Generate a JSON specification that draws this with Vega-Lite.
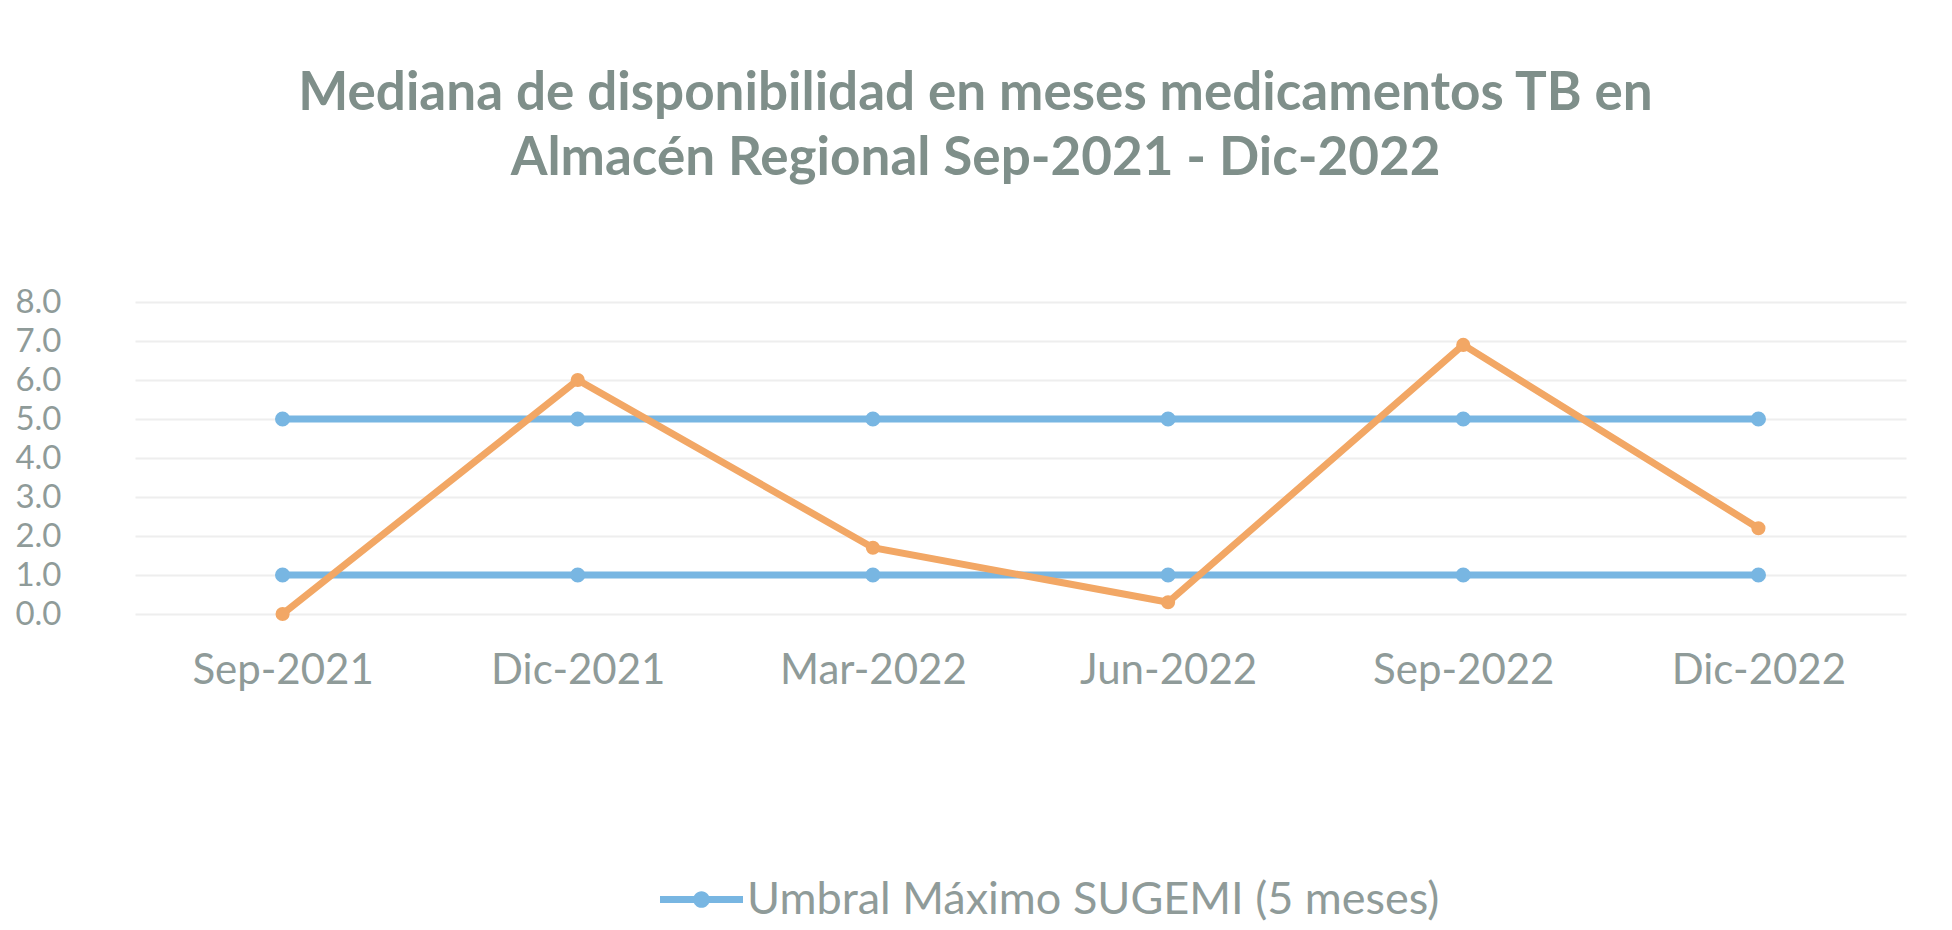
{
  "$schema": "https://vega.github.io/schema/vega-lite/v6.json",
  "width": 1771,
  "height": 312,
  "autosize": {"type": "none"},
  "padding": {"left": 135, "top": 302, "right": 46, "bottom": 316},
  "background": "white",
  "title": {
    "text": ["Mediana de disponibilidad en meses medicamentos TB en", "Almacén Regional  Sep-2021 - Dic-2022"],
    "font": "Lato",
    "fontSize": 53,
    "fontWeight": "bold",
    "color": "#7f8f8a",
    "anchor": "middle",
    "frame": "group",
    "dx": -45,
    "offset": 100,
    "lineHeight": 65
  },
  "config": {
    "view": {"stroke": null},
    "font": "Lato"
  },
  "data": {
    "values": [
      {"periodo": "Sep-2021", "serie": "Umbral Máximo SUGEMI (5 meses)", "valor": 5.0},
      {"periodo": "Dic-2021", "serie": "Umbral Máximo SUGEMI (5 meses)", "valor": 5.0},
      {"periodo": "Mar-2022", "serie": "Umbral Máximo SUGEMI (5 meses)", "valor": 5.0},
      {"periodo": "Jun-2022", "serie": "Umbral Máximo SUGEMI (5 meses)", "valor": 5.0},
      {"periodo": "Sep-2022", "serie": "Umbral Máximo SUGEMI (5 meses)", "valor": 5.0},
      {"periodo": "Dic-2022", "serie": "Umbral Máximo SUGEMI (5 meses)", "valor": 5.0},
      {"periodo": "Sep-2021", "serie": "Umbral Mínimo SUGEMI (1 mes)", "valor": 1.0},
      {"periodo": "Dic-2021", "serie": "Umbral Mínimo SUGEMI (1 mes)", "valor": 1.0},
      {"periodo": "Mar-2022", "serie": "Umbral Mínimo SUGEMI (1 mes)", "valor": 1.0},
      {"periodo": "Jun-2022", "serie": "Umbral Mínimo SUGEMI (1 mes)", "valor": 1.0},
      {"periodo": "Sep-2022", "serie": "Umbral Mínimo SUGEMI (1 mes)", "valor": 1.0},
      {"periodo": "Dic-2022", "serie": "Umbral Mínimo SUGEMI (1 mes)", "valor": 1.0},
      {"periodo": "Sep-2021", "serie": "Mediana de disponibilidad", "valor": 0.0},
      {"periodo": "Dic-2021", "serie": "Mediana de disponibilidad", "valor": 6.0},
      {"periodo": "Mar-2022", "serie": "Mediana de disponibilidad", "valor": 1.7},
      {"periodo": "Jun-2022", "serie": "Mediana de disponibilidad", "valor": 0.3},
      {"periodo": "Sep-2022", "serie": "Mediana de disponibilidad", "valor": 6.9},
      {"periodo": "Dic-2022", "serie": "Mediana de disponibilidad", "valor": 2.2}
    ]
  },
  "encoding": {
    "x": {
      "field": "periodo",
      "type": "ordinal",
      "sort": ["Sep-2021", "Dic-2021", "Mar-2022", "Jun-2022", "Sep-2022", "Dic-2022"],
      "scale": {"type": "point", "padding": 0.5},
      "axis": {
        "title": null,
        "labelAngle": 0,
        "labelFont": "Lato",
        "labelFontSize": 42,
        "labelColor": "#8f9b99",
        "labelPadding": 36,
        "labelLimit": 0,
        "labelOverlap": false,
        "domain": false,
        "ticks": false,
        "grid": false
      }
    },
    "y": {
      "field": "valor",
      "type": "quantitative",
      "scale": {"domain": [0, 8], "nice": false},
      "axis": {
        "title": null,
        "values": [0, 1, 2, 3, 4, 5, 6, 7, 8],
        "format": ".1f",
        "labelFont": "Lato",
        "labelFontSize": 33,
        "labelColor": "#8f9b99",
        "labelPadding": 74,
        "domain": false,
        "ticks": false,
        "grid": true,
        "gridColor": "#eeeeee",
        "gridWidth": 2
      }
    },
    "color": {
      "field": "serie",
      "type": "nominal",
      "scale": {
        "domain": ["Umbral Máximo SUGEMI (5 meses)", "Umbral Mínimo SUGEMI (1 mes)", "Mediana de disponibilidad"],
        "range": ["#78b6e2", "#78b6e2", "#f2a765"]
      },
      "legend": {
        "values": ["Umbral Máximo SUGEMI (5 meses)"],
        "title": null,
        "orient": "none",
        "legendX": 525,
        "legendY": 556,
        "labelFont": "Lato",
        "labelFontSize": 45,
        "labelColor": "#8f9b99",
        "labelLimit": 0,
        "labelOffset": 4,
        "symbolSize": 6889,
        "symbolType": "M-1,-0.085H1V0.085H-1Z M0.2,0A0.2,0.2 0 1,1 -0.2,0A0.2,0.2 0 1,1 0.2,0Z",
        "symbolStrokeWidth": 0,
        "encode": {
          "symbols": {"update": {"fill": {"value": "#78b6e2"}, "fillOpacity": {"value": 1}, "strokeWidth": {"value": 0}}}
        }
      }
    }
  },
  "layer": [
    {
      "transform": [{"filter": "datum.serie !== 'Mediana de disponibilidad'"}],
      "mark": {"type": "line", "strokeWidth": 7, "point": {"filled": true, "size": 230}}
    },
    {
      "transform": [{"filter": "datum.serie === 'Mediana de disponibilidad'"}],
      "mark": {"type": "line", "strokeWidth": 7, "point": {"filled": true, "size": 200}}
    }
  ]
}
